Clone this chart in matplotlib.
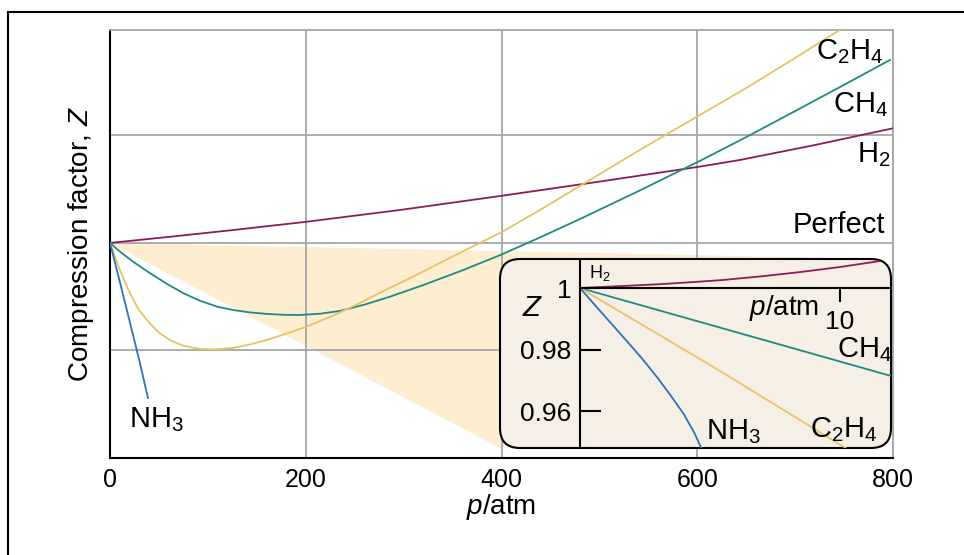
import matplotlib
matplotlib.use("Agg")
import matplotlib.pyplot as plt
from matplotlib import font_manager
from matplotlib.patches import FancyBboxPatch, Polygon
from matplotlib.lines import Line2D

# pick a narrow Helvetica-like face if there is one
family = "Liberation Sans"
try:
    font_manager.findfont("Liberation Sans Narrow", fallback_to_default=False)
    family = "Liberation Sans Narrow"
except Exception:
    pass

plt.rcParams["font.family"] = family
plt.rcParams["mathtext.fontset"] = "custom"
plt.rcParams["mathtext.rm"] = family
plt.rcParams["mathtext.it"] = family + ":italic"

# main plot: compression factor vs pressure (atm)
p_h2 = [0, 60, 126, 200, 296, 400, 500, 603, 644, 720, 800]
z_h2 = [1.0, 1.028, 1.060, 1.098, 1.153, 1.219, 1.285, 1.355, 1.386, 1.455, 1.533]

p_ch4 = [0, 10, 23.5, 40, 58, 75, 92, 110, 126, 143, 160, 177, 194, 215, 235,
         260, 286, 320, 361, 400, 440, 482, 540, 603, 650, 700, 750, 797]
z_ch4 = [1.0, 0.960, 0.913, 0.862, 0.810, 0.766, 0.731, 0.703, 0.688, 0.677,
         0.670, 0.666, 0.665, 0.671, 0.684, 0.713, 0.750, 0.804, 0.874, 0.946,
         1.027, 1.115, 1.241, 1.382, 1.492, 1.613, 1.735, 1.851]

p_c2h4 = [0, 5, 10.2, 15, 20.4, 30, 40.9, 50, 61.3, 75, 92, 108, 125.7, 142,
          160.4, 180, 201, 228, 255, 280, 306.5, 350, 400, 440, 482, 541.5,
          582.4, 650, 700, 745.8, 800]
z_c2h4 = [1.0, 0.936, 0.874, 0.821, 0.765, 0.685, 0.625, 0.583, 0.548, 0.522,
          0.507, 0.505, 0.512, 0.527, 0.549, 0.578, 0.611, 0.662, 0.720, 0.778,
          0.836, 0.937, 1.050, 1.155, 1.270, 1.433, 1.541, 1.720, 1.860, 1.991,
          2.140]

p_nh3 = [0, 10, 20, 30, 38.8]
z_nh3 = [1.0, 0.820, 0.637, 0.453, 0.279]

x_ticks = [0, 200, 400, 600, 800]

# inset: low-pressure region
ip_h2 = [0, 1.5, 3, 4.5, 5.5, 7, 8.5, 10, 11.5]
iz_h2 = [1.0, 1.0006, 1.0012, 1.0020, 1.0026, 1.0038, 1.0052, 1.0068, 1.0087]
ip_ch4 = [0, 6, 12]
iz_ch4 = [1.0, 0.9857, 0.9714]
ip_c2h4 = [0, 5.19, 10.3]
iz_c2h4 = [1.0, 0.9741, 0.9477]
ip_nh3 = [0, 0.6, 1.2, 1.8, 2.4, 3.0, 3.5, 4.0, 4.4, 4.75]
iz_nh3 = [1.0, 0.9942, 0.9885, 0.9828, 0.9770, 0.9707, 0.9650, 0.9590, 0.9530,
          0.9465]

c_h2 = "#8c1c58"
c_ch4 = "#1f8a82"
c_c2h4 = "#e8c266"
c_nh3 = "#2f72b8"
grid_c = "#a6a6a6"

W, H = 964, 555
fig = plt.figure(figsize=(W / 100, H / 100), dpi=100)


def fx(px):
    return px / W


def fy(py):
    return 1 - py / H


ax = fig.add_axes([fx(110), fy(458), fx(893) - fx(110), fy(30) - fy(458)])
ax.set_xlim(0, 800)
ax.set_ylim(0, 1.99)
ax.set_xticks(x_ticks)
ax.set_yticks([0.5, 1.0, 1.5])
ax.set_yticklabels([])
ax.tick_params(length=0, labelsize=18, pad=7)
ax.grid(True, color=grid_c, lw=1.3)
ax.set_axisbelow(True)
for s in ["top", "right"]:
    ax.spines[s].set_color(grid_c)
    ax.spines[s].set_linewidth(1.3)
for s in ["left", "bottom"]:
    ax.spines[s].set_color("black")
    ax.spines[s].set_linewidth(1.5)

ax.set_xlabel("$p$/atm", fontsize=20, labelpad=0)
ax.set_ylabel("Compression factor, $Z$", fontsize=20, labelpad=3)

lw = 1.3
ax.plot(p_h2, z_h2, color=c_h2, lw=lw, zorder=3)
ax.plot(p_ch4, z_ch4, color=c_ch4, lw=lw, zorder=3)
ax.plot(p_c2h4, z_c2h4, color=c_c2h4, lw=lw, zorder=3)
ax.plot(p_nh3, z_nh3, color=c_nh3, lw=lw, zorder=3)

# inset box (inches, so the rounding stays round)
bx0, by0 = 5.00, (H - 448) / 100
bw, bh = 3.91, (448 - 259) / 100
box = FancyBboxPatch((bx0, by0), bw, bh, boxstyle="round,pad=0,rounding_size=0.2",
                     transform=fig.dpi_scale_trans, facecolor="#f5efe5",
                     edgecolor="black", lw=1.5, zorder=2)
fig.add_artist(box)

# shaded wedge from the origin point to the inset
fig.canvas.draw()
ox, oy = fig.dpi_scale_trans.inverted().transform(ax.transData.transform((0, 1.0)))
wedge = Polygon([(ox, oy), (bx0 + bw - 0.05, by0 + bh), (bx0, by0)], closed=True,
                transform=fig.dpi_scale_trans, facecolor="#fdeed2",
                edgecolor="none", zorder=0.2, clip_on=False)
ax.add_patch(wedge)
ax.set_xlim(0, 800)
ax.set_ylim(0, 1.99)

txt = dict(fontsize=21, ha="right", va="baseline")
fig.text(fx(884), fy(59), "C$_2$H$_4$", **txt)
fig.text(fx(888), fy(112), "CH$_4$", **txt)
fig.text(fx(891), fy(162), "H$_2$", **txt)
fig.text(fx(885), fy(233), "Perfect", **txt)
fig.text(fx(129), fy(427), "NH$_3$", fontsize=21, ha="left", va="baseline")

# inset axes
ix0 = 580
ppa = 26.0  # px per atm
ppz = 3085.0  # px per unit Z
iax = fig.add_axes([fx(ix0), fy(448), fx(891) - fx(ix0), fy(259) - fy(448)], zorder=3)
iax.patch.set_visible(False)
iax.set_xlim(0, (891 - ix0) / ppa)
iax.set_ylim(1 - (448 - 288) / ppz, 1 + (288 - 259) / ppz)
for s in ["top", "right"]:
    iax.spines[s].set_visible(False)
iax.spines["bottom"].set_position(("data", 1.0))
iax.spines["left"].set_linewidth(1.5)
iax.spines["bottom"].set_linewidth(1.5)
iax.set_xticks([10])
iax.set_xticklabels(["10"])
iax.tick_params(axis="x", direction="out", length=10, width=1.5, labelsize=19, pad=6)
iax.set_yticks([0.96, 0.98, 1.0])
iax.set_yticklabels(["0.96", "0.98", "1"])
iax.tick_params(axis="y", direction="in", length=15, width=1.5, labelsize=19, pad=6)

iax.plot(ip_h2, iz_h2, color=c_h2, lw=lw)
iax.plot(ip_ch4, iz_ch4, color=c_ch4, lw=lw)
iax.plot(ip_c2h4, iz_c2h4, color=c_c2h4, lw=lw)
iax.plot(ip_nh3, iz_nh3, color=c_nh3, lw=lw)

fig.text(fx(589), fy(278), "H$_2$", fontsize=13, ha="left", va="baseline", zorder=4)
fig.text(fx(522), fy(316), "$Z$", fontsize=21, ha="left", va="baseline", zorder=4)
fig.text(fx(819), fy(315), "$p$/atm", fontsize=20, ha="right", va="baseline", zorder=4)
fig.text(fx(892), fy(357), "CH$_4$", fontsize=21, ha="right", va="baseline", zorder=4)
fig.text(fx(878), fy(437), "C$_2$H$_4$", fontsize=21, ha="right", va="baseline", zorder=4)
fig.text(fx(706), fy(439), "NH$_3$", fontsize=21, ha="left", va="baseline", zorder=4)

# outer frame lines
fig.add_artist(Line2D([fx(8), 1.0], [fy(12), fy(12)], color="black", lw=1.5))
fig.add_artist(Line2D([fx(8), fx(8)], [fy(12), 0.0], color="black", lw=1.5))

fig.savefig("out.png", dpi=100)
